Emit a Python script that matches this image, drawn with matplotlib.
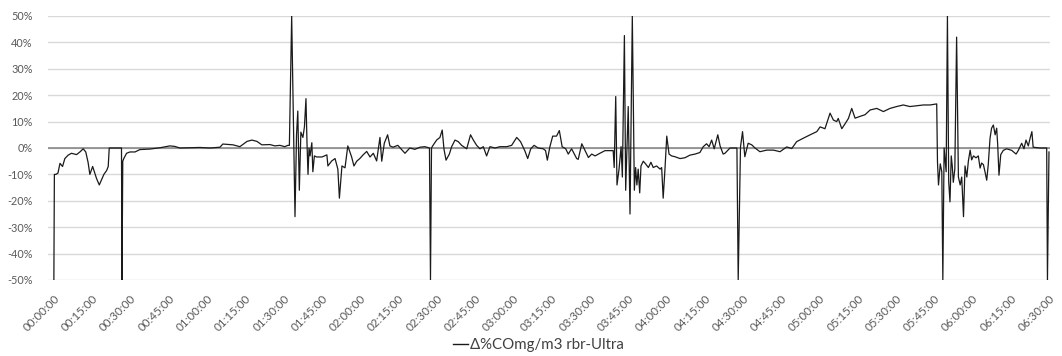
import matplotlib
matplotlib.use("Agg")
import matplotlib.pyplot as plt
from matplotlib.lines import Line2D

# elapsed time in minutes since 00:00:00
minutes = [
    0.0, 0.2, 0.8, 1.6, 2.4, 3.4, 4.3, 5.6, 6.9, 8.9, 10.2, 11.5, 12.5, 13.4, 14.1,
    15.2, 16.7, 17.8, 18.7, 19.6, 20.7, 21.3, 21.7, 23.9, 26.5, 26.7, 27.0, 27.4,
    28.5, 29.8, 31.8, 33.7, 37.6, 41.6, 45.5, 47.4, 49.4, 53.3, 57.2, 61.2, 65.1,
    66.2, 70.2, 72.9, 75.7, 77.6, 79.6, 81.5, 84.7, 86.6, 88.6, 90.5, 91.7, 92.3,
    93.2, 93.7, 94.5, 95.1, 95.6, 96.2, 96.8, 97.6, 98.2, 98.8, 99.2, 99.6, 100.0,
    100.4, 101.1, 101.5, 102.1, 103.0, 105.1, 107.0, 107.4, 108.9, 110.2, 111.3,
    111.9, 112.9, 114.1, 115.2, 116.7, 117.6, 118.7, 119.9, 121.2, 122.6, 123.9,
    125.2, 126.5, 127.8, 128.5, 129.5, 130.8, 131.7, 132.9, 134.8, 137.6, 139.5,
    141.5, 143.5, 145.4, 147.2, 147.6, 148.0, 148.6, 150.0, 151.3, 152.2, 152.9,
    153.7, 155.0, 155.9, 157.2, 158.5, 159.8, 161.8, 163.3, 164.4, 165.7, 167.0,
    168.3, 169.6, 170.9, 172.9, 174.8, 177.5, 179.4, 181.4, 182.9, 184.6, 185.7,
    186.9, 188.2, 189.8, 191.8, 192.7, 193.4, 194.4, 195.5, 197.0, 198.1, 199.2,
    200.6, 201.6, 202.9, 204.9, 205.5, 206.9, 208.2, 209.5, 210.8, 212.1, 214.0,
    216.0, 217.9, 219.2, 219.6, 220.2, 220.7, 221.5, 222.3, 222.8, 223.6, 224.1,
    225.1, 225.8, 226.7, 227.5, 228.0, 228.5, 229.0, 229.6, 230.1, 231.0, 231.9,
    233.0, 234.0, 234.9, 236.2, 237.6, 238.2, 238.8, 239.5, 240.2, 241.1, 242.1,
    243.4, 245.4, 247.3, 249.3, 251.3, 253.2, 254.5, 255.8, 256.8, 257.8, 258.8,
    260.2, 261.1, 262.3, 263.0, 265.0, 267.7, 268.2, 269.1, 269.9, 270.8, 272.1,
    273.5, 274.8, 276.7, 279.4, 282.0, 284.6, 287.2, 289.2, 291.1, 293.7, 296.4,
    299.0, 300.3, 302.2, 304.2, 305.5, 306.8, 307.4, 308.8, 310.1, 311.4, 312.7,
    314.0, 316.0, 317.9, 319.9, 322.5, 325.1, 327.7, 330.3, 332.9, 335.5, 338.2,
    340.8, 343.4, 346.0, 346.3, 346.7, 347.4, 348.0, 348.4, 348.9, 349.7, 350.2,
    350.7, 351.2, 351.7, 352.1, 352.5, 353.1, 353.8, 354.5, 355.2, 355.8, 356.5,
    357.1, 357.8, 358.4, 359.1, 359.7, 360.4, 361.4, 362.3, 363.0, 363.6, 364.3,
    364.9, 365.6, 366.2, 366.9, 367.5, 368.2, 368.9, 369.5, 369.9, 370.4, 371.1,
    372.1, 373.4, 375.4, 377.1, 378.0, 379.3, 380.2, 381.0, 381.9, 382.6, 383.3,
    383.8, 386.5, 389.1, 389.4, 390.0,
]

# Δ% CO mg/m3, rbr vs Ultra (percent)
delta_pct = [
    -50, -10, -10, -9.5, -5.8, -7, -4, -2.7, -2, -2.5, -1.5, -0.3, -1.5, -5.4, -10,
    -7, -11.5, -14, -12, -10, -8.5, -7, 0, 0, 0, -50, -5, -4,
    -2, -1.5, -1.5, -0.6, -0.4, 0.1, 0.8, 0.6, 0, 0.1, 0.2, 0, 0.3,
    1.5, 1.2, 0.5, 2.5, 3, 2.5, 1.2, 1.3, 0.8, 1, 0.5, 1, 1,
    50, 20, -26, 5, 14, -16, 6, 4, 8, 18.7, 2, -10, 0,
    -3, 2, -9, -3, -3.4, -3.4, -2.6, -6.8, -4.9, -4, -8,
    -19, -6.8, -7.5, 0.8, -3.4, -6.8, -5, -4, -2.6, -1.3, -3.4,
    -2, -4.9, 4, -5, 1.8, 5, 0.8, 0.3, 1, -2, 0,
    -0.5, 0.3, 0.5, 0, -50, 0, 1, 3, 4, 6.8, -0.5,
    -4.6, -2.3, 0.5, 3, 2.4, 1, -0.3, 5, 3, 1, -0.3,
    0.5, -3, 0.5, 0, 0.5, 0.5, 1, 4, 2.4, -1.1, -4,
    -0.3, 1, 0, -0.3, -1, -4.6, 0.5, 4.5, 4.5, 6.6, 0.5,
    -0.3, -2.3, -0.3, -4, -4.3, 1.6, -1, -3.6, -2.3, -3, -2,
    -1, -1, -1, -7.4, 19.5, -14, -8, 0.5, -11, 42.6, -16,
    15.7, -25, 50, -16, -7.4, -14, -8, -17, -6.8, -5, -6,
    -7.4, -5.4, -7.4, -6.8, -8, -7.4, -19, -8, 4.5, -2.3, -3,
    -3.3, -4, -3.7, -2.7, -2.3, -1.7, 0.5, 1.6, 0.5, 3, -0.3,
    5, 0.8, -2.3, -2, 0, 0, -50, 0.4, 6.2, -3.3, 1.8,
    1.2, 0, -1.4, -0.8, -0.8, -1.4, 0.4, -0.2, 2.4, 3.7, 5,
    6.2, 8, 7.3, 13.2, 10.6, 10, 11.2, 7.3, 9.2, 11.2, 15,
    11.3, 12, 12.6, 14.4, 15, 13.8, 15, 15.7, 16.3, 15.7, 16,
    16.3, 16.3, 16.7, -5.2, -14, -6, -9, -50, 0, -9, 50,
    -12.8, -20.4, -3, -6.8, -13, -8, 42, -11, -14, -11, -26,
    -6.8, -11, -5, -0.8, -4.5, -3, -3.7, -3, -7.6, -5.7, -6.3,
    -8.9, -12.2, -6.3, 3.7, 7.5, 8.7, 5, 7.5, 1.3, -10.3, -2.5,
    -0.9, -0.3, -0.9, -2.3, -0.9, 1.8, -0.3, 3, 0.8, 3.7, 6.2,
    0.3, 0, 0, -50, -1.5,
]

y_ticks = [-50, -40, -30, -20, -10, 0, 10, 20, 30, 40, 50]
x_ticks = list(range(0, 391, 15))
series_name = "Δ%COmg/m3 rbr-Ultra"

plt.rcParams['font.family'] = ['Lato', 'DejaVu Sans']

fig = plt.figure(figsize=(10.62, 3.56), dpi=100)
ax = fig.add_axes([48 / 1062, 1 - 280 / 356, (1050 - 48) / 1062, (280 - 16) / 356])

ax.plot(minutes, delta_pct, color='#1a1a1a', lw=0.9, zorder=3, clip_on=True)
ax.axhline(0, color='#808080', lw=1.1, zorder=2)

ax.set_ylim(-50, 50)
ax.set_xlim(-2.3, 390.4)
ax.set_yticks(y_ticks)
ax.set_yticklabels([f"{v}%" for v in y_ticks])
ax.set_xticks(x_ticks)
ax.set_xticklabels([f"{m // 60:02d}:{m % 60:02d}:00" for m in x_ticks],
                   rotation=45, ha='right', rotation_mode='anchor')

ax.grid(axis='y', color='#d9d9d9', lw=1.0, zorder=0)
ax.set_axisbelow(True)
for s in ax.spines.values():
    s.set_visible(False)
ax.tick_params(axis='both', length=0, colors='#595959')
ax.tick_params(axis='y', pad=11, labelsize=7.8)
ax.tick_params(axis='x', pad=9, labelsize=8.4)

handle = Line2D([], [], color='#1a1a1a', lw=1.0)
leg = fig.legend([handle], [series_name], loc='center', bbox_to_anchor=(0.507, 0.030),
                 frameon=False, fontsize=10.8, handlelength=1.0, handletextpad=0.1,
                 borderaxespad=0, borderpad=0)
for t in leg.get_texts():
    t.set_color('#404040')

fig.savefig("out.png", dpi=100)
